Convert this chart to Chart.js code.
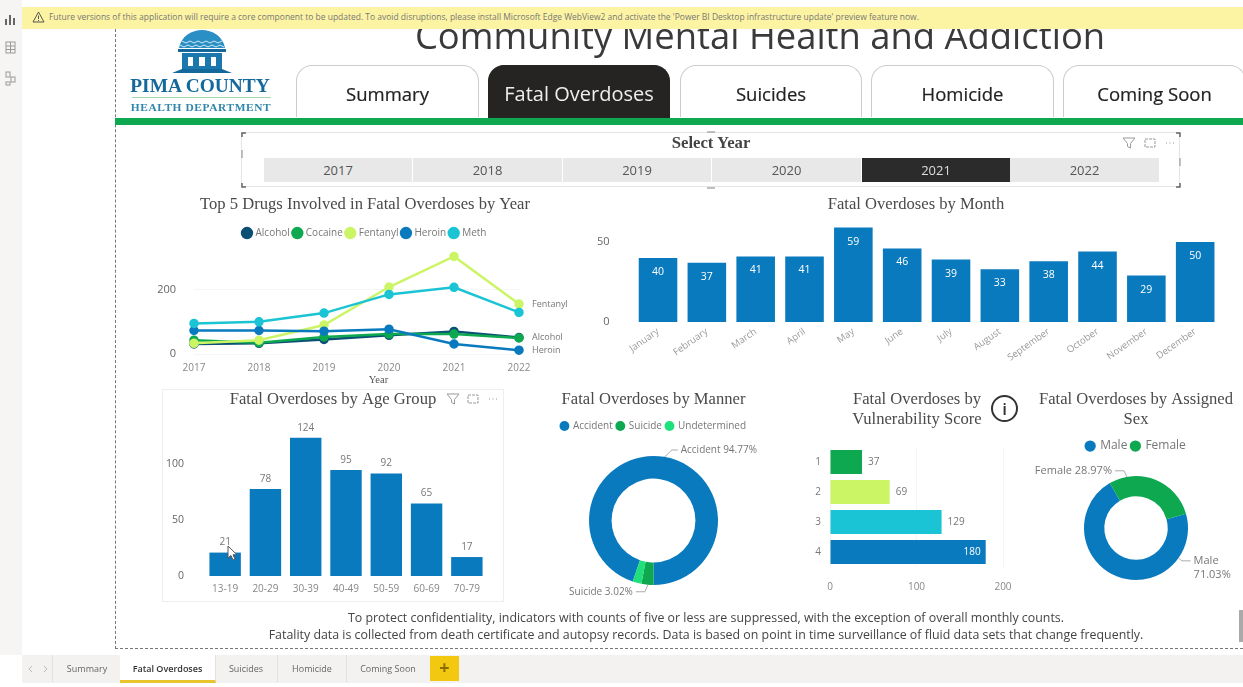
<!DOCTYPE html>
<html>
<head>
<meta charset="utf-8">
<title>Community Mental Health and Addiction</title>
<script src="https://cdn.jsdelivr.net/npm/chart.js@4/dist/chart.umd.min.js"></script>
<style>
html, body { margin: 0; padding: 0; background: #fff; }
#page { position: relative; width: 1243px; height: 687px; overflow: hidden; font-family: "Open Sans", sans-serif; filter: blur(0.35px); }
#page > * { position: absolute; }
canvas { position: absolute; }
.rail { left: 0; top: 0; width: 22px; height: 655px; background: #f6f5f3; }
.banner { left: 22px; top: 7px; width: 1221px; height: 22px; background: #fdf4a3; color: #777; font-size: 8.48px; line-height: 20px; z-index: 5; }
.banner span { position: absolute; left: 27px; white-space: nowrap; }
.bigtitle { left: 360px; width: 800px; top: 10px; text-align: center; font-size: 36.4px; line-height: 50px; color: #3a3a3a; white-space: nowrap; }
.edge-l { left: 115px; top: 29px; height: 620px; border-left: 1px dashed #777; }
.edge-b { left: 115px; top: 648px; width: 1128px; border-top: 1px dashed #777; }
.greenbar { left: 115px; top: 118px; width: 1128px; height: 7px; background: #0da850; }
.tab { top: 65px; height: 52px; box-sizing: border-box; border: 1.5px solid #ccc; border-bottom: 0; border-radius: 16px 16px 0 0; text-align: center; font-size: 18.5px; line-height: 56px; color: #222; background: #fff; -webkit-text-stroke: 0.2px #222; }
.tab.on { background: #252423; border-color: #252423; color: #eee; height: 53px; font-size: 20px; -webkit-text-stroke: 0; }
.slicer { left: 241px; top: 132px; width: 939px; height: 55px; box-sizing: border-box; border: 1px solid #e4e4e4; }
.slicer-title { left: 611px; width: 200px; top: 133px; text-align: center; font: bold 16.700px "Liberation Serif", serif; color: #444; line-height: 20px; }
.cell { top: 158px; height: 24px; background: #e8e8e8; text-align: center; font-size: 13px; line-height: 25px; color: #555; }
.cell.on { background: #2b2b2b; color: #ddd; }
.box { left: 162px; top: 389px; width: 342px; height: 213px; box-sizing: border-box; border: 1px solid #eee; }
.note { left: 106px; width: 1200px; text-align: center; font-size: 12.4px; line-height: 18px; color: #444; white-space: nowrap; }
.tabbar { left: 22px; top: 655px; width: 1221px; height: 28px; background: #f3f2f1; }
.stab { top: 655px; height: 27px; font-size: 9px; line-height: 27px; text-align: center; color: #666; border-right: 1px solid #e2e1df; }
.stab.on { background: #fff; color: #333; font-weight: 600; border-bottom: 3px solid #e8c52f; height: 25px; }
.plus { left: 430px; top: 656px; width: 29px; height: 25px; background: #f2c811; color: #8a6d00; font-size: 18px; font-weight: 700; line-height: 23px; text-align: center; }
.thumb { left: 1239px; top: 610px; width: 4px; height: 32px; background: #aaa; }
.info { left: 991px; top: 395px; width: 23px; height: 23px; border: 2px solid #333; border-radius: 50%; text-align: center; font: 600 17px/23px "Open Sans", sans-serif; color: #333; }
.brand1 { left: 120px; width: 160px; top: 75px; text-align: center; font: bold 19.4px/22px "Liberation Serif", serif; color: #14699c; white-space: nowrap; }
.brand2 { left: 120px; width: 162px; top: 100px; text-align: center; font: bold 11.4px/14px "Liberation Serif", serif; color: #2f86a8; letter-spacing: 0.6px; white-space: nowrap; }
.brandline { left: 132px; top: 97px; width: 139px; height: 1px; background: #a5d6a8; }
</style>
</head>
<body>
<div id="page">
  <div class="rail"></div>
  <svg style="left:4px;top:11px" width="14" height="75" viewBox="0 0 14 75" fill="none" stroke="#999">
    <path d="M2 14V8M6 14V4M10 14V7" stroke="#666" stroke-width="2"/>
    <rect x="2" y="31" width="9" height="11"/><path d="M2 35h9M2 38.500h9M6.500 31v11"/>
    <rect x="2" y="61" width="4" height="5"/><rect x="7" y="66" width="4" height="5"/><rect x="2" y="71" width="4" height="3"/>
  </svg>
  <div class="banner"><span>Future versions of this application will require a core component to be updated. To avoid disruptions, please install Microsoft Edge WebView2 and activate the 'Power BI Desktop infrastructure update' preview feature now.</span></div>
  <svg style="left:32px;top:11px;z-index:6" width="13" height="12" viewBox="0 0 13 12" fill="none" stroke="#555"><path d="M6.500 1L12 11H1Z"/><path d="M6.500 4.500v3.500M6.500 9v1"/></svg>
  <div class="bigtitle">Community Mental Health and Addiction</div>
  <div class="edge-l"></div>
  <div class="edge-b"></div>

  <svg style="left:168px;top:28px" width="68" height="48" viewBox="0 0 68 48">
    <path d="M11 20C13 8 24 2 34 2s21 6 23 18Z" fill="#2a8fc4"/>
    <path d="M14 13l4 2 4-2 4 2 4-2 4 2 4-2 4 2 4-2 4 2 4-2 M12 17l4 2 4-2 4 2 4-2 4 2 4-2 4 2 4-2 4 2 4-2 4 2" fill="none" stroke="#cfe8f2" stroke-width="1"/>
    <rect x="10" y="21" width="48" height="3" fill="#14699c"/>
    <rect x="14" y="25" width="40" height="16" fill="#1a78ae"/>
    <rect x="20" y="29" width="5" height="9" fill="#fff"/><rect x="31" y="29" width="6" height="9" fill="#fff"/><rect x="43" y="29" width="5" height="9" fill="#fff"/>
    <path d="M4 45L14 41H54L64 45Z" fill="#14699c"/>
  </svg>
  <div class="brand1">PIMA COUNTY</div>
  <div class="brandline"></div>
  <div class="brand2">HEALTH DEPARTMENT</div>

  <div class="tab" style="left:296px;width:183px">Summary</div>
  <div class="tab on" style="left:488px;width:182px">Fatal Overdoses</div>
  <div class="tab" style="left:680px;width:182px">Suicides</div>
  <div class="tab" style="left:871px;width:183px">Homicide</div>
  <div class="tab" style="left:1063px;width:183px">Coming Soon</div>
  <div class="greenbar"></div>

  <div class="slicer"></div>
  <svg style="left:239px;top:130px" width="944" height="60" viewBox="0 0 944 60" fill="none" stroke="#666" stroke-width="1.500">
    <path d="M3 7V3H7M937 3H941V7M3 53V57H7M937 57H941V53"/>
    <path d="M3 20v8M941 28v8M468 2h8M468 58h8" stroke="#aaa"/>
  </svg>
  <div class="slicer-title">Select Year</div>
  <div class="cell" style="left:264px;width:148px">2017</div>
  <div class="cell" style="left:413px;width:149px">2018</div>
  <div class="cell" style="left:563px;width:148px">2019</div>
  <div class="cell" style="left:712px;width:149px">2020</div>
  <div class="cell on" style="left:862px;width:148px">2021</div>
  <div class="cell" style="left:1010px;width:149px">2022</div>
  <svg style="left:1122px;top:137px" width="56" height="12" viewBox="0 0 56 12" fill="none" stroke="#999"><path d="M1 1h12L8.500 6.500V11L5.500 9.500V6.500Z"/><rect x="23" y="2" width="10" height="8" stroke-dasharray="3 1"/><path d="M44 6h1M47.500 6h1M51 6h1"/></svg>

  <canvas id="drugsChart" style="left:150px;top:190px" width="430" height="200"></canvas>
  <canvas id="monthChart" style="left:590px;top:190px" width="652" height="175"></canvas>
  <div class="box"></div>
  <canvas id="ageChart" style="left:162px;top:389px" width="342" height="213"></canvas>
  <svg style="left:446px;top:393px" width="56" height="12" viewBox="0 0 56 12" fill="none" stroke="#999"><path d="M1 1h12L8.500 6.500V11L5.500 9.500V6.500Z"/><rect x="22" y="2" width="10" height="8" stroke-dasharray="3 1"/><path d="M43 6h1M46.500 6h1M50 6h1"/></svg>
  <svg style="left:227px;top:545px;z-index:4" width="12" height="17" viewBox="0 0 12 17"><path d="M1 1V13L4 10.500 6 15 8 14 6 9.800H10Z" fill="#fff" stroke="#555"/></svg>
  <canvas id="mannerChart" style="left:545px;top:388px" width="217" height="212"></canvas>
  <canvas id="vulnChart" style="left:800px;top:388px" width="234" height="212"></canvas>
  <div class="info">i</div>
  <canvas id="sexChart" style="left:1030px;top:388px" width="212" height="206"></canvas>

  <div class="note" style="top:609px">To protect confidentiality, indicators with counts of five or less are suppressed, with the exception of overall monthly counts.</div>
  <div class="note" style="top:626px">Fatality data is collected from death certificate and autopsy records. Data is based on point in time surveillance of fluid data sets that change frequently.</div>
  <div class="thumb"></div>

  <div class="tabbar"></div>
  <svg style="left:26px;top:664px" width="24" height="10" viewBox="0 0 24 10" fill="none" stroke="#bbb"><path d="M6 2L3 5l3 3M18 2l3 3-3 3"/></svg>
  <div class="stab" style="left:52px;width:68px;border-left:1px solid #e2e1df">Summary</div>
  <div class="stab on" style="left:120px;width:95px">Fatal Overdoses</div>
  <div class="stab" style="left:215px;width:62px">Suicides</div>
  <div class="stab" style="left:278px;width:68px">Homicide</div>
  <div class="stab" style="left:347px;width:82px;border-right:0">Coming Soon</div>
  <div class="plus">+</div>
</div>

<script>
// Cores do relatório
const BLUE = '#0a7abf';
const GREEN = '#0da84f';
const LIME = '#ccf566';
const CYAN = '#1bc4d4';
const NAVY = '#0b4f75';
const MINT = '#1fe07a';
const SERIF = '"Liberation Serif", serif';
const SANS = '"Open Sans", sans-serif';

// Drogas por ano
const years = ['2017', '2018', '2019', '2020', '2021', '2022'];
const alcohol = [31, 33, 45, 58, 70, 51];
const cocaine = [43, 35, 53, 62, 62, 50];
const fentanyl = [33, 43, 90, 208, 303, 155];
const heroin = [73, 73, 71, 77, 31, 12];
const meth = [95, 100, 127, 185, 207, 129];
const drugTicks = [0, 200];

// Mortes por mês
const months = ['January', 'February', 'March', 'April', 'May', 'June', 'July', 'August', 'September', 'October', 'November', 'December'];
const monthValues = [40, 37, 41, 41, 59, 46, 39, 33, 38, 44, 29, 50];
const monthTicks = [0, 50];

// Faixa etária
const ageGroups = ['13-19', '20-29', '30-39', '40-49', '50-59', '60-69', '70-79'];
const ageValues = [21, 78, 124, 95, 92, 65, 17];
const ageTicks = [0, 50, 100];

// Forma da morte
const mannerLabels = ['Accident', 'Suicide', 'Undetermined'];
const mannerValues = [94.77, 3.02, 2.21];

// Vulnerabilidade
const vulnScores = ['1', '2', '3', '4'];
const vulnValues = [37, 69, 129, 180];
const vulnTicks = [0, 100, 200];

// Sexo atribuído
const sexLabels = ['Male', 'Female'];
const sexValues = [71.03, 28.97];

Chart.defaults.animation = false;
Chart.defaults.responsive = false;
Chart.defaults.font.family = SANS;

// Fixa as marcas do eixo
function fixedTicks(values) {
    return scale => { scale.ticks = values.map(v => ({ value: v })); };
}

// Eixo vazio à direita: reserva espaço sem descentralizar título e legenda
function rightGutter(width) {
    return {
        type: 'linear',
        position: 'right',
        grid: { display: false },
        border: { display: false },
        ticks: { display: false },
        afterFit: scale => { scale.width = width; }
    };
}

function chartTitle(text, top, bottom) {
    return { display: true, text: text, color: '#4a4a4a', font: { family: SERIF, size: 16.6, weight: 'normal' }, padding: { top: top, bottom: bottom } };
}

function chartLegend(size, box) {
    return {
        display: true,
        labels: {
            color: '#777',
            font: { size: size },
            usePointStyle: true,
            pointStyle: 'circle',
            boxWidth: box,
            boxHeight: box,
            padding: 4,
            sort: (a, b) => a.datasetIndex - b.datasetIndex
        }
    };
}

// Rótulos das barras
const barLabels = {
    id: 'barLabels',
    afterDatasetsDraw(chart, args, opts) {
        if (!opts.mode) return;
        const ctx = chart.ctx;
        const horizontal = chart.options.indexAxis === 'y';
        ctx.save();
        ctx.font = (opts.size || 10) + 'px ' + SANS;
        ctx.textBaseline = 'middle';
        chart.getDatasetMeta(0).data.forEach((bar, i) => {
            const value = chart.data.datasets[0].data[i];
            if (horizontal) {
                const inside = value > 150;
                ctx.textAlign = inside ? 'right' : 'left';
                ctx.fillStyle = inside ? '#fff' : '#777';
                ctx.fillText(value, bar.x + (inside ? -5 : 6), bar.y);
            } else {
                ctx.textAlign = 'center';
                ctx.fillStyle = opts.mode === 'inside' ? '#fff' : '#777';
                ctx.fillText(value, bar.x, bar.y + (opts.mode === 'inside' ? 14 : -10));
            }
        });
        ctx.restore();
    }
};

// Nome no fim de cada linha e título do eixo
const endLabels = {
    id: 'endLabels',
    afterDatasetsDraw(chart, args, opts) {
        if (!opts.names) return;
        const ctx = chart.ctx;
        ctx.save();
        ctx.font = '9px ' + SANS;
        ctx.fillStyle = '#777';
        ctx.textBaseline = 'middle';
        opts.names.forEach(name => {
            const i = chart.data.datasets.findIndex(d => d.label === name);
            const meta = chart.getDatasetMeta(i);
            const last = meta.data[meta.data.length - 1];
            ctx.fillText(name, last.x + 13, last.y);
        });
        ctx.font = '10.5px ' + SERIF;
        ctx.fillStyle = '#555';
        ctx.textAlign = 'center';
        ctx.fillText(opts.axisName, (chart.chartArea.left + chart.chartArea.right) / 2 + 22, chart.scales.x.bottom - 10);
        ctx.restore();
    }
};

// Rótulos com linha guia nas roscas
const sliceLabels = {
    id: 'sliceLabels',
    afterDatasetsDraw(chart, args, opts) {
        if (!opts.items) return;
        const ctx = chart.ctx;
        const arc = chart.getDatasetMeta(0).data[0];
        ctx.save();
        ctx.font = (opts.size || 10) + 'px ' + SANS;
        ctx.fillStyle = '#777';
        ctx.strokeStyle = '#aaa';
        ctx.textBaseline = 'middle';
        opts.items.forEach(item => {
            const a = item.angle * Math.PI / 180;
            const px = arc.x + Math.sin(a) * arc.outerRadius;
            const py = arc.y - Math.cos(a) * arc.outerRadius;
            ctx.beginPath();
            ctx.moveTo(px, py);
            ctx.lineTo(px + item.dx, py + item.dy);
            ctx.lineTo(px + item.dx + item.run, py + item.dy);
            ctx.stroke();
            ctx.textAlign = item.run > 0 ? 'left' : 'right';
            const tx = px + item.dx + item.run + (item.run > 0 ? 3 : -3);
            item.lines.forEach((line, n) => ctx.fillText(line, tx, py + item.dy + n * 14));
        });
        ctx.restore();
    }
};
Chart.register(barLabels, endLabels, sliceLabels);

function lineSeries(label, values, color, order) {
    return { label: label, data: values, borderColor: color, backgroundColor: color, borderWidth: 2.5, pointRadius: 3.5, pointHoverRadius: 3.5, clip: false, tension: 0, order: order };
}

new Chart(document.getElementById('drugsChart'), {
    type: 'line',
    data: {
        labels: years,
        datasets: [
            lineSeries('Alcohol', alcohol, NAVY, 5),
            lineSeries('Cocaine', cocaine, GREEN, 4),
            lineSeries('Fentanyl', fentanyl, LIME, 3),
            lineSeries('Heroin', heroin, BLUE, 2),
            lineSeries('Meth', meth, CYAN, 1)
        ]
    },
    options: {
        plugins: {
            title: chartTitle('Top 5 Drugs Involved in Fatal Overdoses by Year', 5, 9.1),
            legend: chartLegend(10, 7),
            endLabels: { names: ['Fentanyl', 'Alcohol', 'Heroin'], axisName: 'Year' }
        },
        scales: {
            x: {
                grid: { display: false, drawTicks: false },
                border: { display: false },
                ticks: { color: '#888', font: { size: 10 }, padding: 8 },
                afterFit: scale => { scale.height = 36; }
            },
            y: {
                min: 0,
                max: 329,
                afterBuildTicks: fixedTicks(drugTicks),
                grid: { color: '#f6f6f6', drawTicks: false },
                border: { display: false },
                ticks: { color: '#666', font: { size: 11 }, padding: 18 },
                afterFit: scale => { scale.width = 44; }
            },
            y2: rightGutter(61)
        }
    }
});

new Chart(document.getElementById('monthChart'), {
    type: 'bar',
    data: { labels: months, datasets: [{ data: monthValues, backgroundColor: BLUE, categoryPercentage: 1, barPercentage: 0.79 }] },
    options: {
        plugins: {
            title: chartTitle('Fatal Overdoses by Month', 5, 7.1),
            legend: { display: false },
            barLabels: { mode: 'inside', size: 10.5 }
        },
        scales: {
            x: {
                grid: { display: false, drawTicks: false },
                border: { display: false },
                ticks: { color: '#999', font: { size: 9.5 }, maxRotation: 35, minRotation: 35, autoSkip: false, padding: 4 },
                afterFit: scale => { scale.height = 43; }
            },
            y: {
                min: 0,
                max: 62.5,
                afterBuildTicks: fixedTicks(monthTicks),
                grid: { display: false },
                border: { display: false },
                ticks: { color: '#666', font: { size: 11 }, padding: 16 },
                afterFit: scale => { scale.width = 43.6; }
            },
            y2: rightGutter(22.4)
        }
    }
});

new Chart(document.getElementById('ageChart'), {
    type: 'bar',
    data: { labels: ageGroups, datasets: [{ data: ageValues, backgroundColor: BLUE, categoryPercentage: 1, barPercentage: 0.78 }] },
    options: {
        plugins: {
            title: chartTitle('Fatal Overdoses by Age Group', 1, 15.1),
            legend: { display: false },
            barLabels: { mode: 'above', size: 10 }
        },
        scales: {
            x: {
                grid: { display: false, drawTicks: false },
                border: { display: false },
                ticks: { color: '#888', font: { size: 10 }, padding: 7 },
                afterFit: scale => { scale.height = 26; }
            },
            y: {
                min: 0,
                max: 135.4,
                afterBuildTicks: fixedTicks(ageTicks),
                grid: { display: false },
                border: { display: false },
                ticks: { color: '#666', font: { size: 10.5 }, padding: 13 },
                afterFit: scale => { scale.width = 43; }
            },
            y2: rightGutter(17)
        }
    }
});

new Chart(document.getElementById('mannerChart'), {
    type: 'doughnut',
    data: { labels: mannerLabels, datasets: [{ data: mannerValues, backgroundColor: [BLUE, GREEN, MINT], borderWidth: 0, radius: 64.5, cutout: '65%', rotation: 198.8 }] },
    options: {
        plugins: {
            title: chartTitle('Fatal Overdoses by Manner', 2, 7.1),
            legend: chartLegend(10, 7),
            sliceLabels: {
                items: [
                    { angle: 10, dx: 7, dy: -7, run: 6, lines: ['Accident 94.77%'] },
                    { angle: 185, dx: -3, dy: 7, run: -9, lines: ['Suicide 3.02%'] }
                ]
            }
        }
    }
});

new Chart(document.getElementById('vulnChart'), {
    type: 'bar',
    data: { labels: vulnScores, datasets: [{ data: vulnValues, backgroundColor: [GREEN, LIME, CYAN, BLUE], categoryPercentage: 1, barPercentage: 0.8 }] },
    options: {
        indexAxis: 'y',
        plugins: {
            title: chartTitle(['Fatal Overdoses by', 'Vulnerability Score'], 2, 17.2),
            legend: { display: false },
            barLabels: { mode: 'side', size: 10 }
        },
        scales: {
            x: {
                min: 0,
                max: 200,
                afterBuildTicks: fixedTicks(vulnTicks),
                grid: { color: '#f5f5f5', drawTicks: false },
                border: { display: false },
                ticks: { color: '#888', font: { size: 10 }, padding: 14 },
                afterFit: scale => { scale.height = 33; }
            },
            y: {
                grid: { display: false },
                border: { display: false },
                ticks: { color: '#777', font: { size: 10 }, padding: 1 },
                afterFit: scale => { scale.width = 30; }
            },
            y2: rightGutter(31)
        }
    }
});

new Chart(document.getElementById('sexChart'), {
    type: 'doughnut',
    data: { labels: sexLabels, datasets: [{ data: sexValues, backgroundColor: [BLUE, GREEN], borderWidth: 0, radius: 52, cutout: '61%', rotation: 74 }] },
    options: {
        plugins: {
            title: chartTitle(['Fatal Overdoses by Assigned', 'Sex'], 2, 6.2),
            legend: chartLegend(12, 8),
            sliceLabels: {
                size: 11,
                items: [
                    { angle: -10, dx: -3, dy: -6, run: -9, lines: ['Female 28.97%'] },
                    { angle: 125, dx: 3, dy: 3, run: 9, lines: ['Male', '71.03%'] }
                ]
            }
        }
    }
});
</script>
</body>
</html>
